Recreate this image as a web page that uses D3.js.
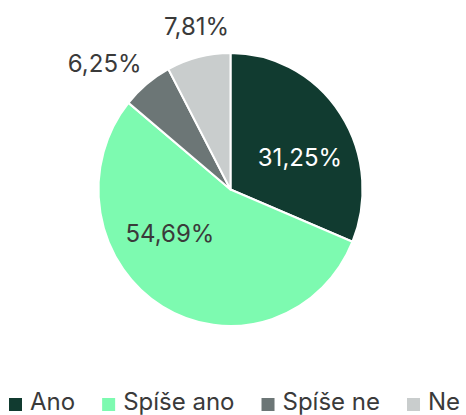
<!DOCTYPE html>
<html><head><meta charset="utf-8">
<script src="https://cdn.jsdelivr.net/npm/d3@7"></script>
<style>
html,body{margin:0;padding:0;background:#fff;}
text{font-family:Inter,"Noto Sans",sans-serif;}
</style></head>
<body><svg id="c" width="466" height="415"></svg>
<script>
const categories = ["Ano", "Spíše ano", "Spíše ne", "Ne"];
const values = [31.25, 54.69, 6.25, 7.81];
const labels = ["31,25%", "54,69%", "6,25%", "7,81%"];
const colors = ["#113b30", "#7dfab0", "#6c7676", "#c9cdcd"];
const labelColors = ["#ffffff", "#3a3a3a", "#3a3a3a", "#3a3a3a"];

const svg = d3.select("#c");
const cx = 230.5, cy = 189.5, r = 132, sy = 136.5 / 132;
const data = categories.map((c, i) => ({c, v: values[i], i}));
const pie = d3.pie().value(d => d.v).sort(null);
const arcs = pie(data);
const arc = d3.arc().innerRadius(0).outerRadius(r);

const g = svg.append("g").attr("transform", `translate(${cx},${cy}) scale(1,${sy})`);
g.selectAll("path").data(arcs).join("path")
  .attr("d", arc)
  .attr("fill", d => colors[d.data.i])
  .attr("stroke", "#fff").attr("stroke-width", 2).attr("stroke-linejoin", "round");

// label placement: radius factor and nudge per slice
const labelR = [0.6, 0.55, 1.2, 1.18];
const nudge = [[3.6, 22], [-23.2, -11.9], [-25.4, 8.8], [3.9, 1.8]];
const lg = svg.append("g").attr("transform", `translate(${cx},${cy})`);
arcs.forEach((a, k) => {
  const m = (a.startAngle + a.endAngle) / 2;
  let x = Math.sin(m) * r * labelR[k];
  let y = -Math.cos(m) * r * sy * labelR[k];
  lg.append("text")
    .attr("x", x + nudge[k][0]).attr("y", y + nudge[k][1])
    .attr("text-anchor", "middle")
    .attr("font-size", 24).attr("fill", labelColors[k])
    .text(labels[k]);
});

// legend
const leg = svg.append("g").attr("transform", "translate(9,410)");
let xpos = 0;
categories.forEach((c, i) => {
  const it = leg.append("g").attr("transform", `translate(${xpos},0)`);
  it.append("rect").attr("x", 0).attr("y", -12).attr("width", 13).attr("height", 13).attr("fill", colors[i]);
  const t = it.append("text").attr("x", 21).attr("y", 0).attr("font-size", 24).attr("fill", "#3a3a3a").text(c);
  xpos += 21 + t.node().getComputedTextLength() + 27;
});
</script></body></html>
